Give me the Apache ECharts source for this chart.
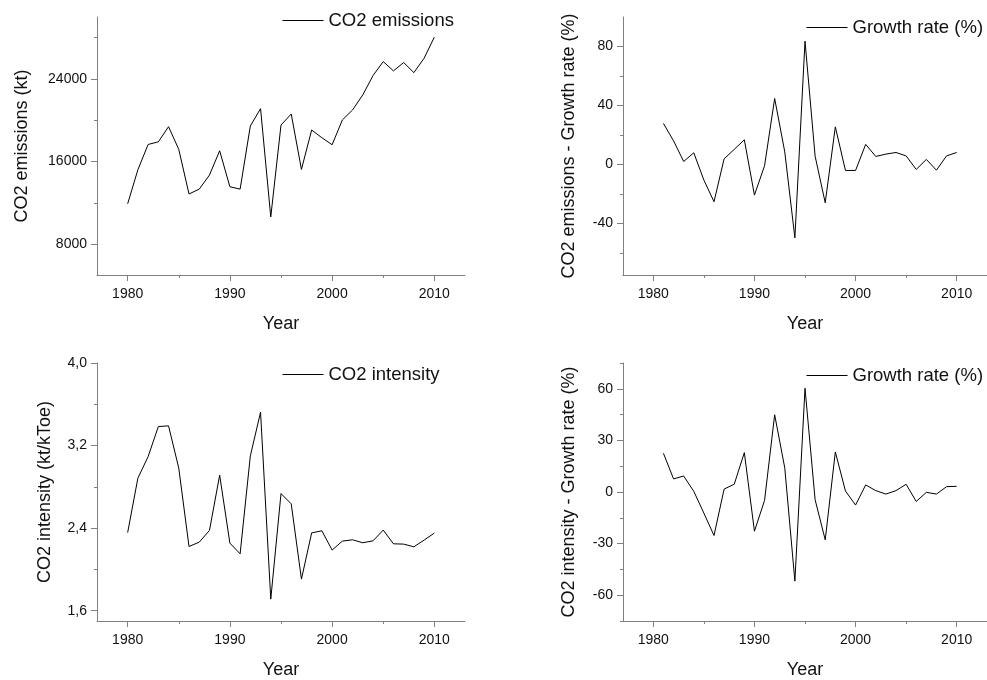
<!doctype html>
<html lang="en">
  <head>
    <meta charset="UTF-8" />
    <title>CO2 emissions and intensity</title>
    <script src="https://cdn.jsdelivr.net/npm/echarts@6/dist/echarts.min.js"></script>
    <style>
      html, body { margin: 0; padding: 0; background: #fff; }
      #chart { width: 987px; height: 680px; }
    </style>
  </head>
  <body>
    <div id="chart"></div>
    <script>
      // Data
      const years = [
        1980, 1981, 1982, 1983, 1984, 1985, 1986, 1987, 1988, 1989,
        1990, 1991, 1992, 1993, 1994, 1995, 1996, 1997, 1998, 1999,
        2000, 2001, 2002, 2003, 2004, 2005, 2006, 2007, 2008, 2009, 2010
      ];
      const growthYears = years.slice(1);

      const emissions = [
        11900, 15200, 17650, 17900, 19370, 17170, 12850, 13320, 14680, 17040,
        13550, 13320, 19440, 21120, 10630, 19530, 20600, 15230, 19050, 18300,
        17620, 20020, 20990, 22450, 24320, 25680, 24780, 25590, 24610, 26010, 28050
      ];
      const emissionsGrowth = [
        27.8, 16.0, 2.0, 7.9, -10.6, -25.3, 3.8, 10.2, 16.7, -20.8,
        -0.9, 44.7, 8.5, -49.8, 83.6, 5.6, -26.0, 25.5, -4.1, -4.1,
        13.6, 5.4, 7.0, 8.1, 5.8, -3.4, 3.4, -3.9, 5.8, 8.1
      ];
      const intensity = [
        2.357, 2.884, 3.093, 3.384, 3.391, 2.981, 2.222, 2.264, 2.377, 2.913,
        2.255, 2.151, 3.100, 3.523, 1.712, 2.735, 2.635, 1.906, 2.354, 2.374,
        2.187, 2.274, 2.287, 2.258, 2.277, 2.381, 2.248, 2.245, 2.219, 2.284, 2.352
      ];
      const intensityGrowth = [
        22.5, 7.6, 9.3, 0.4, -12.3, -25.3, 1.7, 4.5, 22.9, -22.8,
        -4.9, 44.9, 14.0, -51.8, 60.3, -4.5, -27.8, 23.3, 0.6, -7.6,
        4.1, 0.8, -1.2, 0.8, 4.5, -5.5, -0.2, -1.2, 3.1, 3.3
      ];

      // tick labels / tick positions
      const yearLabels = [1980, 1990, 2000, 2010];
      const yearMinor = [1985, 1995, 2005];
      const emissionsLabels = [8000, 16000, 24000];
      const emissionsMinor = [12000, 20000, 28000];
      const growthLabels = [-40, 0, 40, 80];
      const growthMinor = [-60, -20, 20, 60];
      const intensityLabels = [1.6, 2.4, 3.2, 4.0];
      const intensityMinor = [2.0, 2.8, 3.6];
      const intGrowthLabels = [-60, -30, 0, 30, 60];
      const intGrowthMinor = [-75, -45, -15, 15, 45, 75];

      const FONT = 'Liberation Sans, Arial, sans-serif';
      const AXIS_COLOR = '#808080';
      const TEXT_COLOR = '#111';

      const panels = [
        {
          left: 97, top: 17, name: 'CO2 emissions', yName: 'CO2 emissions (kt)',
          x: years, y: emissions, min: 5000, max: 30000,
          labels: emissionsLabels, minor: emissionsMinor, nameGap: 66,
          fmt: (v) => String(v), legendLeft: 282, legendTop: 11
        },
        {
          left: 623, top: 17, name: 'Growth rate (%)', yName: 'CO2 emissions - Growth rate (%)',
          x: growthYears, y: emissionsGrowth, min: -75, max: 100,
          labels: growthLabels, minor: growthMinor, nameGap: 45,
          fmt: (v) => String(v), legendLeft: 806, legendTop: 18
        },
        {
          left: 97, top: 363, name: 'CO2 intensity', yName: 'CO2 intensity (kt/kToe)',
          x: years, y: intensity, min: 1.5, max: 4.0,
          labels: intensityLabels, minor: intensityMinor, nameGap: 43,
          fmt: (v) => v.toFixed(1).replace('.', ','), legendLeft: 282, legendTop: 365
        },
        {
          left: 623, top: 363, name: 'Growth rate (%) ', yName: 'CO2 intensity - Growth rate (%)',
          x: growthYears, y: intensityGrowth, min: -75, max: 75,
          labels: intGrowthLabels, minor: intGrowthMinor, nameGap: 45,
          fmt: (v) => String(v), legendLeft: 806, legendTop: 366
        }
      ];

      const option = {
        animation: false,
        backgroundColor: '#fff',
        textStyle: { fontFamily: FONT },
        grid: [], xAxis: [], yAxis: [], series: [], legend: []
      };

      panels.forEach((p, i) => {
        option.grid.push({ left: p.left, top: p.top, width: 368, height: 258 });

        const xBase = {
          type: 'value', gridIndex: i, min: 1977, max: 2013, position: 'bottom',
          splitLine: { show: false }
        };
        // main x axis: line, labels, long ticks
        option.xAxis.push(Object.assign({}, xBase, {
          name: 'Year', nameLocation: 'middle', nameGap: 40,
          nameTextStyle: { fontSize: 18, color: TEXT_COLOR, fontFamily: FONT },
          axisLine: { show: true, onZero: false, lineStyle: { color: AXIS_COLOR, width: 1 } },
          axisTick: { show: true, length: 6, customValues: yearLabels, lineStyle: { color: AXIS_COLOR } },
          axisLabel: { customValues: yearLabels, fontSize: 14, color: TEXT_COLOR, margin: 12,
                       fontFamily: FONT, formatter: (v) => String(v) }
        }));
        // minor x ticks
        option.xAxis.push(Object.assign({}, xBase, {
          axisLine: { show: false, onZero: false },
          axisTick: { show: true, length: 3, customValues: yearMinor, lineStyle: { color: AXIS_COLOR } },
          axisLabel: { show: false }
        }));

        const yBase = {
          type: 'value', gridIndex: i, min: p.min, max: p.max, position: 'left',
          splitLine: { show: false }
        };
        option.yAxis.push(Object.assign({}, yBase, {
          name: p.yName, nameLocation: 'middle', nameGap: p.nameGap,
          nameTextStyle: { fontSize: 18, color: TEXT_COLOR, fontFamily: FONT },
          axisLine: { show: true, onZero: false, lineStyle: { color: AXIS_COLOR, width: 1 } },
          axisTick: { show: true, length: 6, customValues: p.labels, lineStyle: { color: AXIS_COLOR } },
          axisLabel: { customValues: p.labels, fontSize: 14, color: TEXT_COLOR, margin: 10,
                       fontFamily: FONT, formatter: p.fmt }
        }));
        option.yAxis.push(Object.assign({}, yBase, {
          axisLine: { show: false, onZero: false },
          axisTick: { show: true, length: 3, customValues: p.minor, lineStyle: { color: AXIS_COLOR } },
          axisLabel: { show: false }
        }));

        option.series.push({
          type: 'line', name: p.name, xAxisIndex: i * 2, yAxisIndex: i * 2,
          data: p.x.map((yr, k) => [yr, p.y[k]]),
          symbol: 'none', lineStyle: { color: '#000', width: 1 }, itemStyle: { color: '#000' }
        });

        option.legend.push({
          left: p.legendLeft, top: p.legendTop, padding: 0,
          itemWidth: 41, itemHeight: 14, itemGap: 5,
          data: [p.name],
          itemStyle: { opacity: 0 },
          lineStyle: { color: '#000', width: 1 },
          textStyle: { fontSize: 18.5, color: TEXT_COLOR, fontFamily: FONT },
          selectedMode: false
        });
      });

      const chart = echarts.init(document.getElementById('chart'));
      chart.setOption(option);
    </script>
  </body>
</html>
